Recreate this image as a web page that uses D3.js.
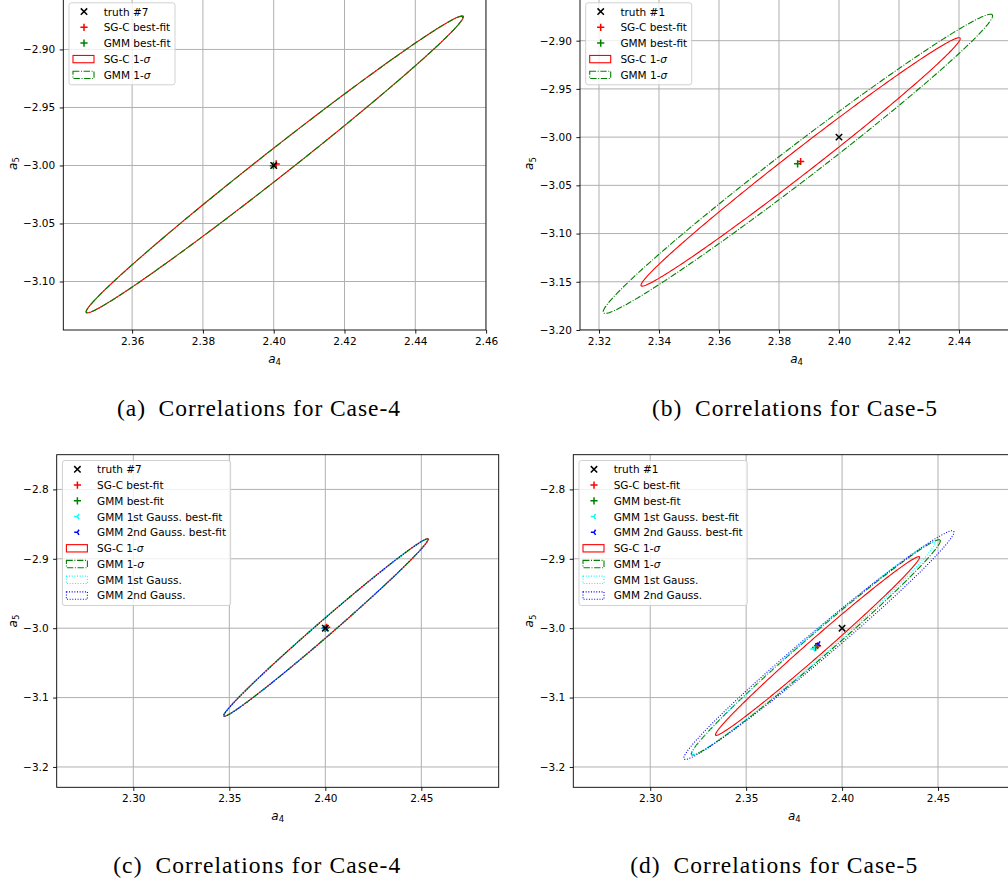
<!DOCTYPE html>
<html>
<head>
<meta charset="utf-8">
<script src="https://cdn.jsdelivr.net/npm/d3@7"></script>
<style>
body { margin: 0; background: #fff; }
svg { display: block; }
text { font-family: "DejaVu Sans", sans-serif; }
</style>
</head>
<body>
<div id="fig"></div>
<script>
// ---- data ----
var panelTags = ["(a)", "(b)", "(c)", "(d)"]
var caseNames = ["Correlations for Case-4", "Correlations for Case-5", "Correlations for Case-4", "Correlations for Case-5"]
var truthLabels = ["truth #7", "truth #1", "truth #7", "truth #1"]
var panelCase = [4, 5, 4, 5]
var showGauss = [false, false, true, true]

var xTickValues = [
	[2.36, 2.38, 2.40, 2.42, 2.44, 2.46],
	[2.32, 2.34, 2.36, 2.38, 2.40, 2.42, 2.44],
	[2.30, 2.35, 2.40, 2.45],
	[2.30, 2.35, 2.40, 2.45]]
var yTickValues = [
	[-2.90, -2.95, -3.00, -3.05, -3.10],
	[-2.90, -2.95, -3.00, -3.05, -3.10, -3.15, -3.20],
	[-2.8, -2.9, -3.0, -3.1, -3.2],
	[-2.8, -2.9, -3.0, -3.1, -3.2]]
var xTickDecimals = [2, 2, 2, 2]
var yTickDecimals = [2, 2, 1, 1]
var xLimits = [[2.34056, 2.45997], [2.31367, 2.4581], [2.2601, 2.4903], [2.2599, 2.4903]]
var yLimits = [[-3.1418, -2.8548], [-3.20, -2.8547], [-3.2293, -2.75], [-3.2293, -2.75]]

// points [a4, a5]
var truthPoint = [2.400, -3.000]
var sgcFit = {4: [2.4007, -2.9987], 5: [2.3872, -3.0253]}
var gmmFit = {4: [2.3999, -3.0002], 5: [2.3862, -3.0277]}
var gauss1Fit = {4: [2.4000, -3.0003], 5: [2.3851, -3.0300]}
var gauss2Fit = {4: [2.4002, -2.9996], 5: [2.3877, -3.0226]}

// 1-sigma ellipses [centre a4, centre a5, sigma a4, sigma a5, correlation]
var sgcEllipse = {4: [2.4003, -2.9990, 0.0533, 0.1280, 0.9934], 5: [2.3872, -3.0257, 0.0532, 0.1288, 0.9925]}
var gmmEllipse = {4: [2.4002, -2.9993, 0.0532, 0.1278, 0.9934], 5: [2.3863, -3.0277, 0.0649, 0.1551, 0.9895]}
var gauss1Ellipse = {4: [2.4001, -2.9994, 0.0531, 0.1277, 0.9934], 5: [2.3850, -3.0291, 0.0634, 0.1536, 0.9900]}
var gauss2Ellipse = {4: [2.4003, -2.9992, 0.0532, 0.1279, 0.9934], 5: [2.3879, -3.0243, 0.0704, 0.1648, 0.9880]}

// ---- layout ----
var W = 1008, H = 888
var axesBoxes = [
	{left: 63.3, right: 486, top: -3, bottom: 330},
	{left: 580, right: 1013.3, top: -3, bottom: 330},
	{left: 56.7, right: 498.7, top: 454.7, bottom: 787.3},
	{left: 573.3, right: 1015.3, top: 454.7, bottom: 787.3}]
var yLabelOffset = [46.6, 46.7, 40, 40]
var captionPos = [[258.5, 416], [794.5, 416], [256.7, 873.3], [773.7, 873.3]]
var captionWidth = [283, 285, 287, 287]

var svg = d3.select("#fig")
	.append("svg")
	.attr("width", W)
	.attr("height", H)

// marker shapes, in px around 0,0
var R = 3.2
var markerPaths = {
	x: "M" + (-R) + "," + (-R) + "L" + R + "," + R + "M" + (-R) + "," + R + "L" + R + "," + (-R),
	plus: "M" + (-R - 0.4) + ",0H" + (R + 0.4) + "M0," + (-R - 0.4) + "V" + (R + 0.4),
	tri: "M0,0L" + (-R) + ",0M0,0L" + (0.5 * R) + "," + (-0.8 * R) + "M0,0L" + (0.5 * R) + "," + (0.8 * R)
}

var styles = {
	sgc: {color: "#ff0000", dash: null},
	gmm: {color: "#008000", dash: "6.4,1.6,1,1.6"},
	g1: {color: "#00ffff", dash: "1,1.65"},
	g2: {color: "#0000ff", dash: "1,1.65"}
}

function ellipsePoints(e) {
	var pts = [], n = 360, k = Math.sqrt(1 - e[4] * e[4])
	for (var i = 0; i < n; i++) {
		var t = 2 * Math.PI * i / n
		pts.push([e[0] + e[2] * Math.cos(t), e[1] + e[3] * (e[4] * Math.cos(t) + k * Math.sin(t))])
	}
	return pts
}

panelTags.forEach(function(tag, p) {
	var box = axesBoxes[p]
	var c = panelCase[p]
	var g = svg.append("g")

	var x = d3.scaleLinear().domain(xLimits[p]).range([box.left, box.right])
	var y = d3.scaleLinear().domain(yLimits[p]).range([box.bottom, box.top])

	var clipId = "clip" + p
	g.append("clipPath").attr("id", clipId)
		.append("rect")
		.attr("x", box.left).attr("y", box.top)
		.attr("width", box.right - box.left).attr("height", box.bottom - box.top)

	// grid
	var grid = g.append("g").attr("clip-path", "url(#" + clipId + ")")
	grid.selectAll(".gx").data(xTickValues[p]).enter().append("line")
		.attr("x1", function(d) { return x(d) }).attr("x2", function(d) { return x(d) })
		.attr("y1", box.top).attr("y2", box.bottom)
		.attr("stroke", "#b0b0b0").attr("stroke-width", 1)
	grid.selectAll(".gy").data(yTickValues[p]).enter().append("line")
		.attr("y1", function(d) { return y(d) }).attr("y2", function(d) { return y(d) })
		.attr("x1", box.left).attr("x2", box.right)
		.attr("stroke", "#b0b0b0").attr("stroke-width", 1)

	// ellipses
	var plot = g.append("g").attr("clip-path", "url(#" + clipId + ")")
	var line = d3.line().x(function(d) { return x(d[0]) }).y(function(d) { return y(d[1]) }).curve(d3.curveLinearClosed)
	var ells = [["sgc", sgcEllipse[c]], ["gmm", gmmEllipse[c]]]
	if (showGauss[p]) ells.push(["g1", gauss1Ellipse[c]], ["g2", gauss2Ellipse[c]])
	ells.forEach(function(e) {
		plot.append("path")
			.attr("d", line(ellipsePoints(e[1])))
			.attr("fill", "none")
			.attr("stroke", styles[e[0]].color)
			.attr("stroke-width", 1.1)
			.attr("stroke-dasharray", styles[e[0]].dash)
	})

	// best-fit markers (truth on top)
	var pts = [["plus", "#ff0000", sgcFit[c]], ["plus", "#008000", gmmFit[c]]]
	if (showGauss[p]) pts.push(["tri", "#00ffff", gauss1Fit[c]], ["tri", "#0000ff", gauss2Fit[c]])
	pts.push(["x", "#000000", truthPoint])
	pts.forEach(function(m) {
		plot.append("path")
			.attr("d", markerPaths[m[0]])
			.attr("transform", "translate(" + x(m[2][0]) + "," + y(m[2][1]) + ")")
			.attr("fill", "none").attr("stroke", m[1]).attr("stroke-width", 1.5)
	})

	// spines
	g.append("rect")
		.attr("x", box.left).attr("y", box.top)
		.attr("width", box.right - box.left).attr("height", box.bottom - box.top)
		.attr("fill", "none").attr("stroke", "#000").attr("stroke-width", 0.9)

	// axes
	var xAxis = g.append("g")
		.attr("transform", "translate(0," + box.bottom + ")")
		.call(d3.axisBottom(x).tickValues(xTickValues[p]).tickFormat(d3.format("." + xTickDecimals[p] + "f"))
			.tickSize(3.6).tickPadding(4).tickSizeOuter(0))
	var yAxis = g.append("g")
		.attr("transform", "translate(" + box.left + ",0)")
		.call(d3.axisLeft(y).tickValues(yTickValues[p]).tickFormat(d3.format("." + yTickDecimals[p] + "f"))
			.tickSize(3.6).tickPadding(4.5).tickSizeOuter(0))
	;[xAxis, yAxis].forEach(function(a) {
		a.select(".domain").remove()
		a.attr("font-family", "DejaVu Sans").attr("font-size", 10.5)
		a.selectAll(".tick line").attr("stroke-width", 0.9)
	})

	// axis labels
	var xl = g.append("text")
		.attr("x", (box.left + box.right) / 2).attr("y", box.bottom + 32.5)
		.attr("text-anchor", "middle").attr("font-size", 12)
	xl.append("tspan").attr("font-style", "italic").text("a")
	xl.append("tspan").attr("font-size", 8.5).attr("dy", 2.5).text("4")

	var ly = (box.top + box.bottom) / 2, lx = box.left - yLabelOffset[p]
	var yl = g.append("text")
		.attr("transform", "translate(" + lx + "," + ly + ") rotate(-90)")
		.attr("text-anchor", "middle").attr("font-size", 12)
	yl.append("tspan").attr("font-style", "italic").text("a")
	yl.append("tspan").attr("font-size", 8.5).attr("dy", 2.5).text("5")

	// legend
	var items = [
		{label: truthLabels[p], marker: "x", color: "#000000"},
		{label: "SG-C best-fit", marker: "plus", color: "#ff0000"},
		{label: "GMM best-fit", marker: "plus", color: "#008000"}]
	if (showGauss[p]) items.push(
		{label: "GMM 1st Gauss. best-fit", marker: "tri", color: "#00ffff"},
		{label: "GMM 2nd Gauss. best-fit", marker: "tri", color: "#0000ff"})
	items.push({label: "SG-C 1-", sigma: true, patch: "sgc"}, {label: "GMM 1-", sigma: true, patch: "gmm"})
	if (showGauss[p]) items.push({label: "GMM 1st Gauss.", patch: "g1"}, {label: "GMM 2nd Gauss.", patch: "g2"})

	var lg = g.append("g")
	var bx = box.left + 5.7, by = box.top + 5.8
	var rowH = 15.75
	var frame = lg.append("rect")
	var maxW = 0
	items.forEach(function(it, i) {
		var cy = by + 8.8 + i * rowH
		if (it.marker) {
			lg.append("path").attr("d", markerPaths[it.marker])
				.attr("transform", "translate(" + (bx + 15) + "," + cy + ")")
				.attr("fill", "none").attr("stroke", it.color).attr("stroke-width", 1.5)
		} else {
			var st = styles[it.patch]
			lg.append("rect")
				.attr("x", bx + 4).attr("y", cy - 3.4).attr("width", 21).attr("height", 7.3)
				.attr("fill", "none").attr("stroke", st.color).attr("stroke-width", 1.1)
				.attr("stroke-dasharray", st.dash)
		}
		var t = lg.append("text").attr("x", bx + 34.7).attr("y", cy)
			.attr("dominant-baseline", "central").attr("font-size", 10.5)
			.text(it.label)
		if (it.sigma) t.append("tspan").attr("font-style", "italic").text("\u03c3")
		maxW = Math.max(maxW, t.node().getComputedTextLength())
	})
	frame.attr("x", bx).attr("y", by)
		.attr("width", 34.7 + maxW + 4.5)
		.attr("height", 8.8 + (items.length - 1) * rowH + 10.2)
		.attr("rx", 2.5)
		.attr("fill", "#fff").attr("fill-opacity", 0.8)
		.attr("stroke", "#cccccc").attr("stroke-width", 0.9)

	// caption
	svg.append("text")
		.attr("x", captionPos[p][0]).attr("y", captionPos[p][1])
		.attr("text-anchor", "middle")
		.style("font-family", "'Liberation Serif', serif")
		.attr("font-size", 23.5)
		.attr("textLength", captionWidth[p])
		.attr("lengthAdjust", "spacing")
		.text(tag + "\u2002" + caseNames[p])
})
</script>
</body>
</html>
